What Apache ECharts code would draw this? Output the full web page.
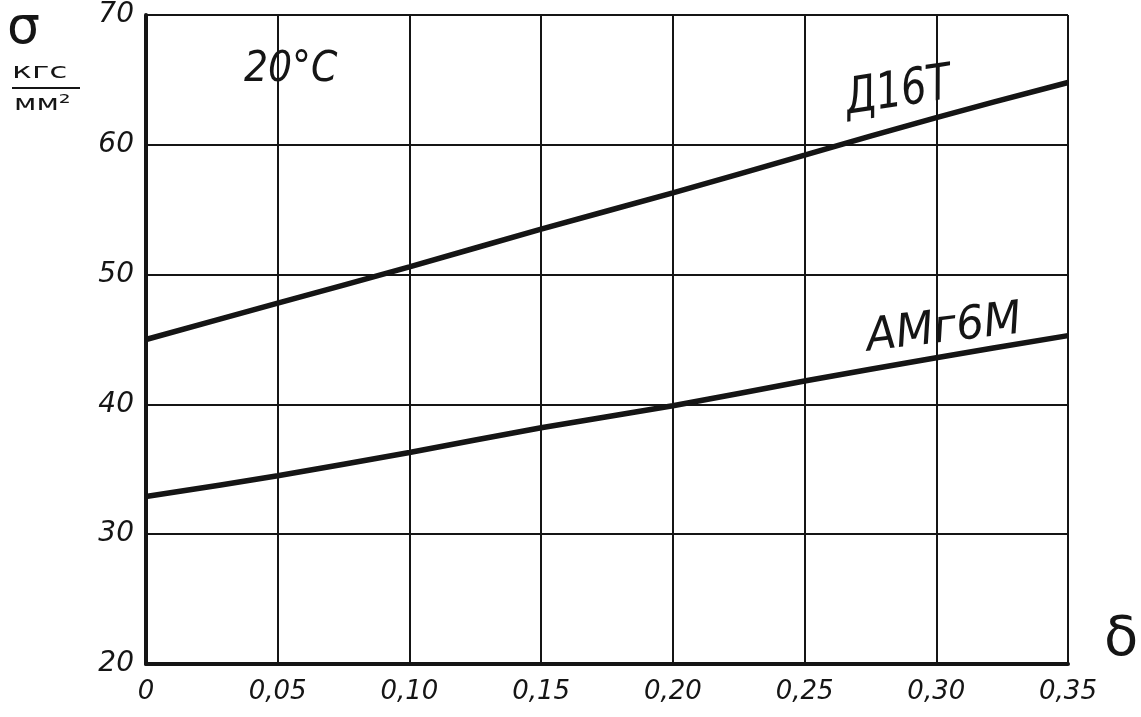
<!DOCTYPE html>
<html>
<head>
<meta charset="utf-8">
<title>σ(δ), 20°C</title>
<script src="https://cdn.jsdelivr.net/npm/echarts@6/dist/echarts.min.js"></script>
<style>
  html, body { margin: 0; padding: 0; background: #fff; }
  #chart { width: 1141px; height: 717px; }
</style>
</head>
<body>
<div id="chart"></div>
<script>
// Strain δ (x) and strength σ, kgf/mm² (y)
const deltaValues = [0, 0.05, 0.10, 0.15, 0.20, 0.25, 0.30, 0.35];
const sigmaD16T   = [45.0, 47.8, 50.6, 53.5, 56.3, 59.2, 62.1, 64.8];
const sigmaAMg6M  = [32.9, 34.5, 36.3, 38.2, 39.9, 41.8, 43.6, 45.3];

const seriesNames = ['Д16Т', 'АМг6М'];
const xTicks = [0, 0.05, 0.10, 0.15, 0.20, 0.25, 0.30, 0.35];
const yTicks = [20, 30, 40, 50, 60, 70];

// Where the curve names sit (bottom centre), in data units
const labelAnchors = [[0.287, 62.1], [0.304, 44.0]];

const INK = '#151515';
const FONT = '"DejaVu Sans", "Liberation Sans", sans-serif';

const chart = echarts.init(document.getElementById('chart'), null, { renderer: 'canvas' });

function xFmt(v) {
  if (Math.abs(v) < 1e-9) return '0';
  return v.toFixed(2).replace('.', ',');
}

const option = {
  backgroundColor: '#ffffff',
  animation: false,
  grid: { left: 146, right: 73, top: 15, bottom: 53, containLabel: false },
  xAxis: {
    type: 'value',
    min: xTicks[0],
    max: xTicks[xTicks.length - 1],
    interval: 0.05,
    axisLine: { show: true, onZero: false, lineStyle: { color: INK, width: 4 } },
    axisTick: { show: false },
    splitLine: { show: true, lineStyle: { color: INK, width: 2 } },
    axisLabel: {
      formatter: xFmt,
      color: INK,
      fontFamily: FONT,
      fontStyle: 'italic',
      fontSize: 26,
      margin: 15
    }
  },
  yAxis: {
    type: 'value',
    min: yTicks[0],
    max: yTicks[yTicks.length - 1],
    interval: 10,
    axisLine: { show: true, onZero: false, lineStyle: { color: INK, width: 4 } },
    axisTick: { show: false },
    splitLine: { show: true, lineStyle: { color: INK, width: 2 } },
    axisLabel: {
      color: INK,
      fontFamily: FONT,
      fontStyle: 'italic',
      fontSize: 28,
      margin: 12
    }
  },
  series: [
    {
      name: seriesNames[0],
      type: 'line',
      smooth: 0.3,
      symbol: 'none',
      data: deltaValues.map((x, i) => [x, sigmaD16T[i]]),
      lineStyle: { color: INK, width: 5.5 },
      z: 5
    },
    {
      name: seriesNames[1],
      type: 'line',
      smooth: 0.3,
      symbol: 'none',
      data: deltaValues.map((x, i) => [x, sigmaAMg6M[i]]),
      lineStyle: { color: INK, width: 5.5 },
      z: 5
    }
  ]
};

chart.setOption(option);

// Axis titles, temperature note and curve names
function drawAnnotations() {
  const pts = labelAnchors.map(p => chart.convertToPixel({ gridIndex: 0 }, p));
  const origin = chart.convertToPixel({ gridIndex: 0 }, [0, 20]);
  const top = chart.convertToPixel({ gridIndex: 0 }, [0, 70]);
  const right = chart.convertToPixel({ gridIndex: 0 }, [0.35, 20]);
  const textStyle = (t, font, extra) => Object.assign({ text: t, fill: INK, font: font }, extra || {});

  chart.setOption({
    graphic: [
      // σ with its units as a fraction
      { type: 'text', left: 7, top: top[1] - 12, style: textStyle('σ', '52px ' + FONT) },
      { type: 'text', x: 12, y: top[1] + 46, scaleX: 1.5, style: textStyle('кгс', '22px ' + FONT) },
      { type: 'line', shape: { x1: 12, y1: top[1] + 73, x2: 80, y2: top[1] + 73 }, style: { stroke: INK, lineWidth: 2 } },
      { type: 'text', x: 14, y: top[1] + 78, scaleX: 1.35, style: textStyle('мм²', '22px ' + FONT) },
      // δ at the end of the x axis
      { type: 'text', left: right[0] + 36, top: origin[1] - 52, style: textStyle('δ', '56px ' + FONT) },
      // Temperature
      { type: 'text', x: 244, y: top[1] + 34, scaleX: 0.9, style: textStyle('20°C', 'italic 42px ' + FONT) },
      // Curve names
      { type: 'text', x: pts[0][0], y: pts[0][1], rotation: 0.15, scaleX: 0.8,
        style: textStyle(seriesNames[0], 'italic 50px ' + FONT, { textAlign: 'center', textVerticalAlign: 'bottom' }) },
      { type: 'text', x: pts[1][0], y: pts[1][1], rotation: 0.12, scaleX: 0.95,
        style: textStyle(seriesNames[1], 'italic 46px ' + FONT, { textAlign: 'center', textVerticalAlign: 'bottom' }) }
    ]
  });
}

drawAnnotations();
</script>
</body>
</html>
